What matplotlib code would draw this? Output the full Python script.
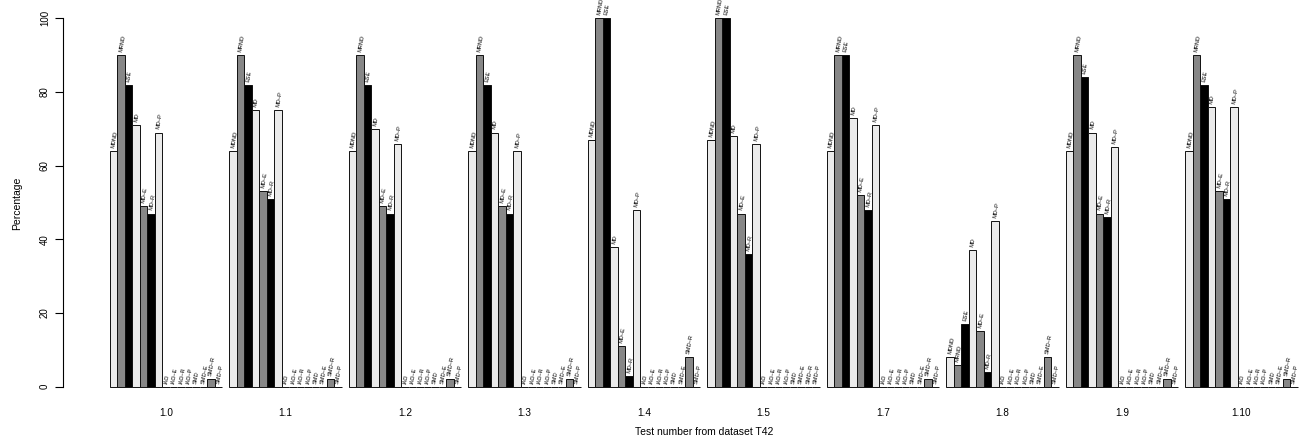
import matplotlib
matplotlib.use("Agg")
import matplotlib.pyplot as plt
import numpy as np

plt.rcParams['font.family'] = ['Liberation Sans', 'DejaVu Sans']

tests = ["1.0", "1.1", "1.2", "1.3", "1.4", "1.5", "1.7", "1.8", "1.9", "1.10"]
methods = ["MDND", "MRND", "ESE", "MD", "MD–E", "MD–R", "MD–P",
           "IAD", "IAD–E", "IAD–R", "IAD–P", "SMD", "SMD–E", "SMD–R", "SMD–P"]

v_1_0 = [64, 90, 82, 71, 49, 47, 69, 0, 0, 0, 0, 0, 0, 2, 0]
v_1_1 = [64, 90, 82, 75, 53, 51, 75, 0, 0, 0, 0, 0, 0, 2, 0]
v_1_2 = [64, 90, 82, 70, 49, 47, 66, 0, 0, 0, 0, 0, 0, 2, 0]
v_1_3 = [64, 90, 82, 69, 49, 47, 64, 0, 0, 0, 0, 0, 0, 2, 0]
v_1_4 = [67, 100, 100, 38, 11, 3, 48, 0, 0, 0, 0, 0, 0, 8, 0]
v_1_5 = [67, 100, 100, 68, 47, 36, 66, 0, 0, 0, 0, 0, 0, 0, 0]
v_1_7 = [64, 90, 90, 73, 52, 48, 71, 0, 0, 0, 0, 0, 0, 2, 0]
v_1_8 = [8, 6, 17, 37, 15, 4, 45, 0, 0, 0, 0, 0, 0, 8, 0]
v_1_9 = [64, 90, 84, 69, 47, 46, 65, 0, 0, 0, 0, 0, 0, 2, 0]
v_1_10 = [64, 90, 82, 76, 53, 51, 76, 0, 0, 0, 0, 0, 0, 2, 0]

values = [v_1_0, v_1_1, v_1_2, v_1_3, v_1_4, v_1_5, v_1_7, v_1_8, v_1_9, v_1_10]
colors = ["#EBEBEB", "#878787", "#000000"]

W, H = 1299, 448
fig = plt.figure(figsize=(W / 100, H / 100), dpi=100)
left_px, right_px = 62.5, 1345.0
top_px, bot_px = 3.6, 401.4
ax = fig.add_axes([left_px / W, (H - bot_px) / H, (right_px - left_px) / W, (bot_px - top_px) / H])
ax.set_xlim(-5.36, 166.36)
ax.set_ylim(-4, 104)

nm = len(methods)
for g, vals in enumerate(values):
    for j, v in enumerate(vals):
        x = 1 + g * (nm + 1) + j
        ax.bar(x + 0.5, v, width=1.0, color=colors[j % 3], edgecolor="#111111",
               linewidth=0.7, align="center")
        ax.text(x + 0.45, v + 0.9, methods[j], rotation=80, rotation_mode="anchor",
                ha="left", va="center", fontsize=4.1)

for s in ["top", "right", "bottom"]:
    ax.spines[s].set_visible(False)
ax.spines["left"].set_bounds(0, 100)
ax.spines["left"].set_linewidth(0.8)
ax.set_yticks([0, 20, 40, 60, 80, 100])
ax.tick_params(axis="y", length=6, width=0.8, labelsize=7, pad=3, labelrotation=90)
for lab in ax.get_yticklabels():
    lab.set_va("center")
centers = [1 + g * (nm + 1) + nm / 2 for g in range(len(tests))]
ax.set_xticks(centers)
ax.set_xticklabels(tests)
ax.tick_params(axis="x", length=0, labelsize=7.2, pad=5)

fig.text((left_px + right_px) / 2 / W, 1 - 432 / H, "Test number from dataset T42",
         ha="center", va="center", fontsize=7.5)
fig.text(17 / W, 1 - 203 / H, "Percentage", ha="center", va="center",
         rotation=90, fontsize=7.5)

fig.savefig("out.png", dpi=100)
